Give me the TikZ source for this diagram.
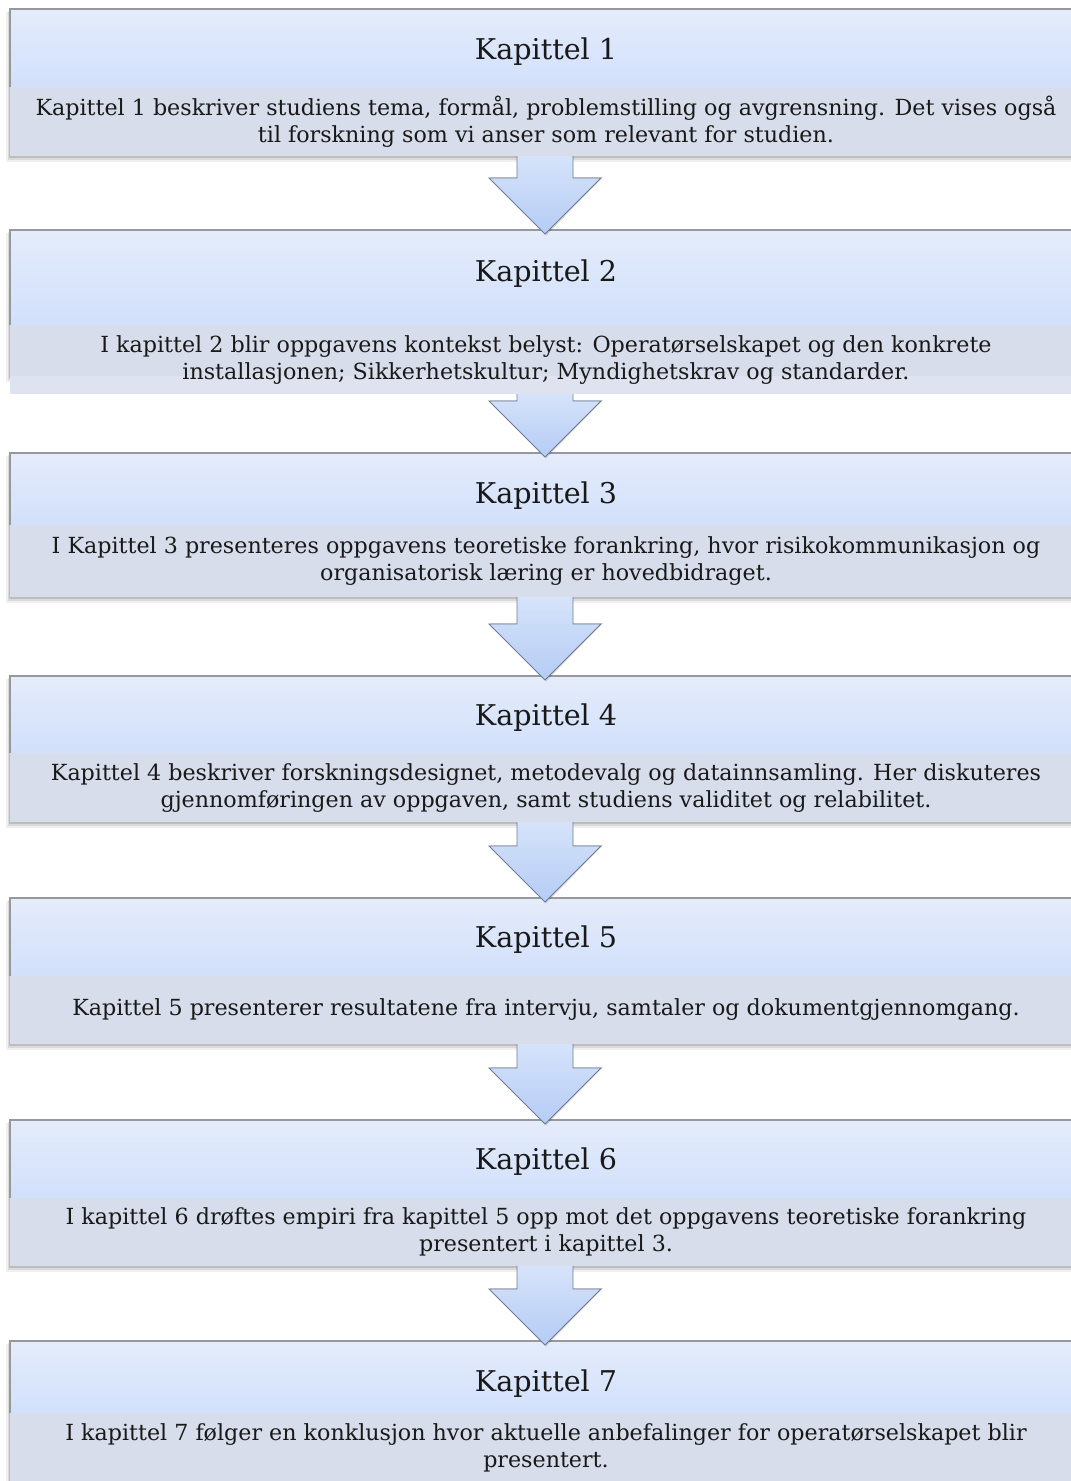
\documentclass[tikz,border=0pt]{standalone}
\usepackage{fontspec}
\setmainfont{DejaVu Serif}
\usetikzlibrary{calc}

\definecolor{titletop}{RGB}{229,236,251}
\definecolor{titlebot}{RGB}{209,224,251}
\definecolor{descfill}{RGB}{215,221,235}
\definecolor{stripfill}{RGB}{222,227,239}
\definecolor{boxedge}{RGB}{150,152,158}
\definecolor{arrowtop}{RGB}{214,227,250}
\definecolor{arrowbot}{RGB}{181,204,245}
\definecolor{arrowedge}{RGB}{112,124,150}
\definecolor{inktext}{RGB}{25,25,25}

\tikzset{
  titleband/.style={rectangle, inner sep=0pt, outer sep=0pt, anchor=north west,
    minimum width=1072pt, top color=titletop, bottom color=titlebot},
  descband/.style={rectangle, inner sep=0pt, outer sep=0pt, anchor=north west,
    minimum width=1072pt, fill=descfill},
  stripband/.style={rectangle, inner sep=0pt, outer sep=0pt, anchor=north west,
    minimum width=1072pt, fill=stripfill},
  edgeline/.style={draw=boxedge, line width=1.6pt},
  titletext/.style={inner sep=0pt, text=inktext, font=\fontsize{28.6}{32}\selectfont},
  desctext/.style={inner sep=0pt, text=inktext, align=center,
    font=\fontsize{22.2}{27}\selectfont},
  arrowbody/.style={top color=arrowtop, bottom color=arrowbot},
  arrowline/.style={draw=arrowedge, line width=0.9pt, line join=miter},
}

% bands of one chapter box: #1 id, #2 box top, #3 description top, #4 box bottom
\newcommand\kapbox[4]{%
  \fill[black, opacity=.06] (6,#2+3) rectangle (1086,#4+5.5);
  \fill[black, opacity=.09] (7.5,#2+2) rectangle (1084,#4+3.8);
  \fill[black, opacity=.13] (9,#2+1) rectangle (1083,#4+2);
  \node[titleband, minimum height={#3-#2}] (t#1) at (10,#2) {};
  \node[descband, minimum height={#4-#3}] (d#1) at (10,#3) {};
  \draw[edgeline] (t#1.south west) -- (t#1.north west) -- (t#1.north east);
}

% texts of one chapter box: #1 id, #2 title centre y, #3 description centre y,
% #4 title, #5 description
\newcommand\kaptext[5]{%
  \node[titletext] (h#1) at (546,#2) {#4};
  \node[desctext] (x#1) at (546,#3) {#5};
}

% block arrow from the bottom of node #1 to the top of node #2
\newcommand\blockarrow[2]{%
  \fill[black, opacity=.15] let \p1=(#1.south), \p2=(#2.north) in
    (490,\y2+53) -- (546,\y2-5.5) -- (603,\y2+53) -- cycle;
  \path[arrowbody] let \p1=(#1.south), \p2=(#2.north) in
    (517,\y1) -- (573,\y1) -- (573,\y2+52) -- (601,\y2+52) -- (545,\y2-4)
    -- (489,\y2+52) -- (517,\y2+52) -- cycle;
  \draw[arrowline] let \p1=(#1.south), \p2=(#2.north) in
    (517,\y1) -- (517,\y2+52) -- (489,\y2+52) -- (545,\y2-4)
    -- (601,\y2+52) -- (573,\y2+52) -- (573,\y1);
}

\begin{document}
\begin{tikzpicture}[x=1pt, y=-1pt]
  \useasboundingbox (0,0) rectangle (1071,1481);
  \clip (0,0) rectangle (1071,1481);
  \fill[white] (0,0) rectangle (1071,1481);

  \kapbox{1}{9}{87}{156}
  \kaptext{1}{52}{121.5}{Kapittel 1}
    {Kapittel 1 beskriver studiens tema, formål, problemstilling og avgrensning. Det vises også\\til forskning som vi anser som relevant for studien.}

  \kapbox{2}{230}{325}{376}
  \node[stripband, minimum height=18pt] (s2) at (10,376) {};
  \kaptext{2}{274}{360}{Kapittel 2}
    {I kapittel 2 blir oppgavens kontekst belyst: Operatørselskapet og den konkrete\\installasjonen; Sikkerhetskultur; Myndighetskrav og standarder.}

  \kapbox{3}{453}{525}{597}
  \kaptext{3}{496}{561}{Kapittel 3}
    {I Kapittel 3 presenteres oppgavens teoretiske forankring, hvor risikokommunikasjon og\\organisatorisk læring er hovedbidraget.}

  \kapbox{4}{676}{753}{822}
  \kaptext{4}{718}{788}{Kapittel 4}
    {Kapittel 4 beskriver forskningsdesignet, metodevalg og datainnsamling. Her diskuteres\\gjennomføringen av oppgaven, samt studiens validitet og relabilitet.}

  \kapbox{5}{898}{976}{1044}
  \kaptext{5}{940}{1010}{Kapittel 5}
    {Kapittel 5 presenterer resultatene fra intervju, samtaler og dokumentgjennomgang.}

  \kapbox{6}{1120}{1198}{1266}
  \kaptext{6}{1162}{1232}{Kapittel 6}
    {I kapittel 6 drøftes empiri fra kapittel 5 opp mot det oppgavens teoretiske forankring\\presentert i kapittel 3.}

  \kapbox{7}{1341}{1413}{1484}
  \kaptext{7}{1384}{1448}{Kapittel 7}
    {I kapittel 7 følger en konklusjon hvor aktuelle anbefalinger for operatørselskapet blir\\presentert.}

  \blockarrow{d1}{t2}
  \blockarrow{s2}{t3}
  \blockarrow{d3}{t4}
  \blockarrow{d4}{t5}
  \blockarrow{d5}{t6}
  \blockarrow{d6}{t7}
\end{tikzpicture}
\end{document}
